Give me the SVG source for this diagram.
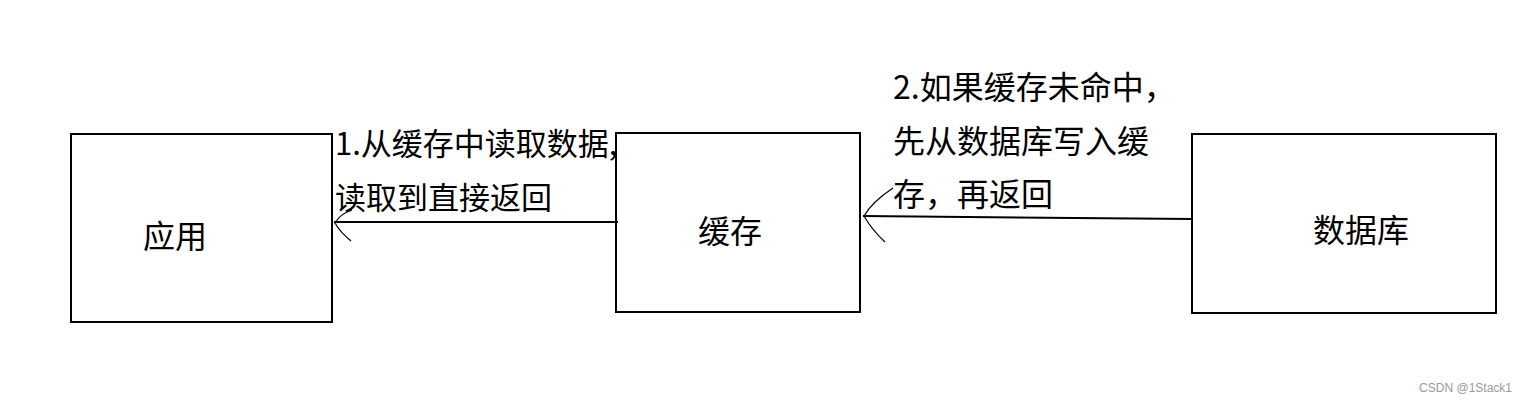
<svg xmlns="http://www.w3.org/2000/svg" width="1528" height="401" viewBox="0 0 1528 401">
<style>
.box{fill:#fff;stroke:#000;stroke-width:2}
.lbl{font-family:"Noto Sans CJK SC","Microsoft YaHei",sans-serif;font-size:32px;fill:#000}
.note{font-family:"Noto Sans CJK SC","Microsoft YaHei",sans-serif;fill:#000}
.edge{fill:none;stroke:#000;stroke-width:2}
.head{fill:none;stroke:#000;stroke-width:1.2}
</style>
<rect width="1528" height="401" fill="#fff"/>
<g id="node-app">
<rect class="box" x="71" y="134" width="261" height="188"/>
<text class="lbl" x="175" y="248" text-anchor="middle">应用</text>
</g>
<g id="node-cache">
<rect class="box" x="616" y="133" width="244" height="179"/>
<text class="lbl" x="730" y="243" text-anchor="middle">缓存</text>
</g>
<g id="node-db">
<rect class="box" x="1192" y="134" width="304" height="179"/>
<text class="lbl" x="1361" y="242" text-anchor="middle">数据库</text>
</g>
<g id="connectors">
<line class="edge" x1="618" y1="222" x2="334" y2="222"/>
<path class="head" d="M352,210 Q340,214 335,223 Q340,232 351,241"/>
<line class="edge" x1="1193" y1="219" x2="863" y2="216"/>
<path class="head" d="M893,188 Q872,202 864,216 Q872,230 885,242"/>
</g>
<g id="labels">
<text class="note" font-size="31" x="335" y="155">1.从缓存中读取数据,</text>
<text class="note" font-size="31" x="335" y="209">读取到直接返回</text>
<text class="note" font-size="32" x="893" y="99">2.如果缓存未命中，</text>
<text class="note" font-size="32" x="893" y="153">先从数据库写入缓</text>
<text class="note" font-size="32" x="893" y="206">存，再返回</text>
</g>
<text x="1512" y="392" text-anchor="end" font-family="Liberation Sans, Arial, sans-serif" font-size="12" fill="#999">CSDN @1Stack1</text>
</svg>
